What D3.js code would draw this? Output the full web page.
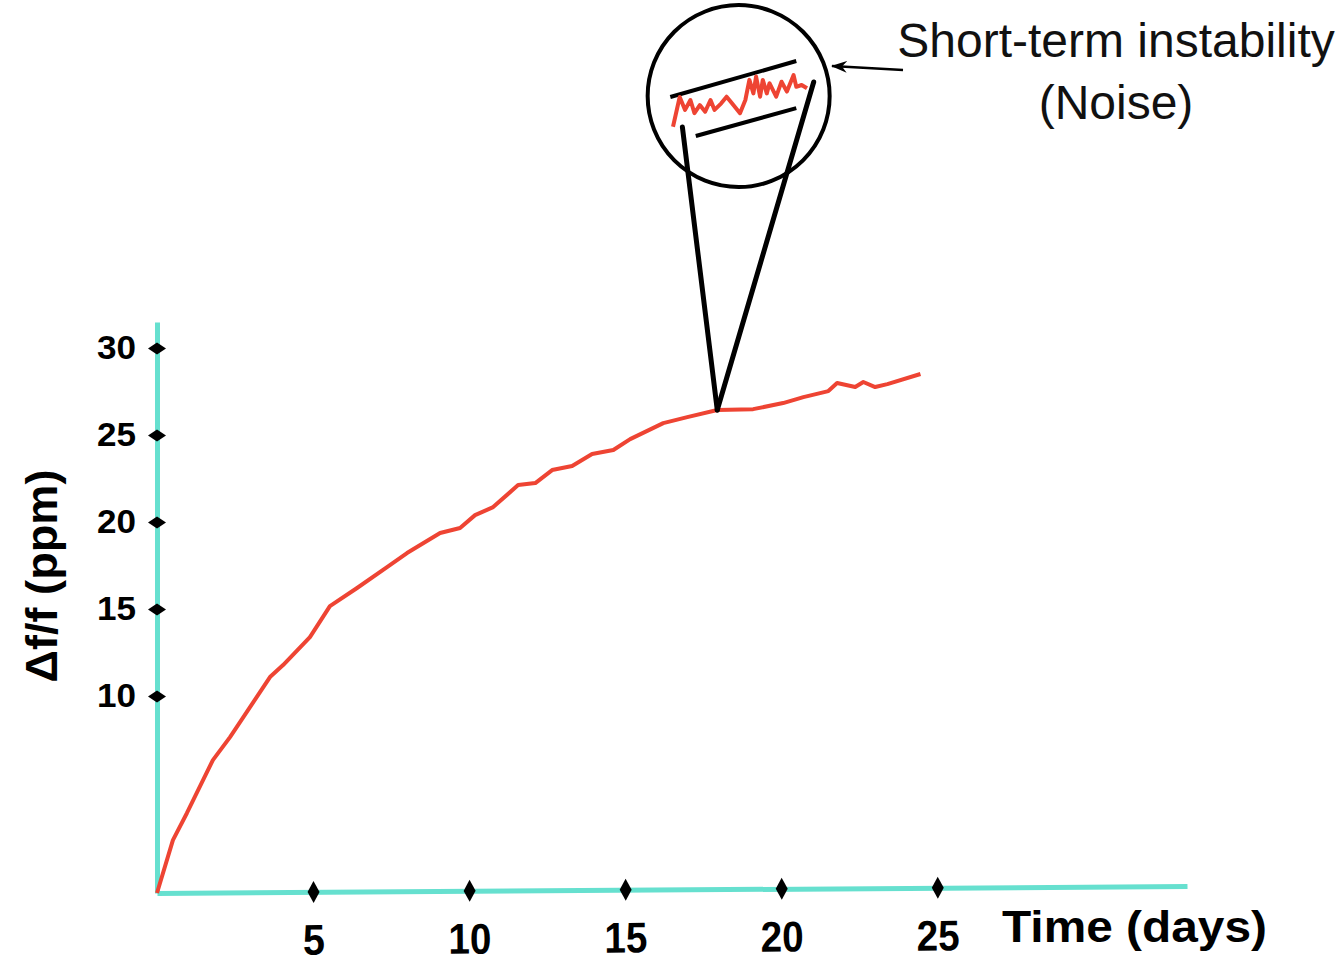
<!DOCTYPE html>
<html>
<head>
<meta charset="utf-8">
<script src="https://cdn.jsdelivr.net/npm/d3@7"></script>
<style>
  html, body { margin: 0; padding: 0; background: #fff; }
  svg { display: block; font-family: 'Liberation Sans', Arial, sans-serif; }
</style>
</head>
<body>
<div class="container"></div>
<script>
// drift curve: time (days) vs frequency offset (ppm)
const days = [0, 0.51, 0.96, 1.79, 2.34, 3.62, 4.04, 4.90, 5.54, 6.41, 7.37, 8.01, 9.07, 9.71, 10.19, 10.77,
  11.57, 12.12, 12.66, 13.30, 13.94, 14.62, 15.16, 16.22, 16.99, 17.95, 19.10, 20.06, 20.71, 21.51,
  21.79, 22.37, 22.63, 23.01, 23.40, 24.46]
const ppm = [-1.32, 1.72, 3.28, 6.32, 7.64, 11.09, 11.78, 13.39, 15.17, 16.21, 17.41, 18.22, 19.37, 19.66, 20.40, 20.86,
  22.13, 22.24, 22.99, 23.22, 23.91, 24.14, 24.77, 25.69, 26.03, 26.44, 26.49, 26.84, 27.18, 27.53,
  27.99, 27.76, 28.05, 27.76, 27.93, 28.51]

const xTicks = [5, 10, 15, 20, 25]
const yTicks = [10, 15, 20, 25, 30]

// magnified noise trace in the inset (local units)
const noiseU = [0, 0.05, 0.09, 0.13, 0.16, 0.20, 0.24, 0.28, 0.31, 0.36, 0.40, 0.44, 0.50, 0.54, 0.57, 0.60,
  0.62, 0.65, 0.67, 0.70, 0.72, 0.77, 0.81, 0.85, 0.90, 0.92, 0.96, 1.0]
const noiseV = [0.01, 1.0, 0.57, 0.9, 0.46, 0.73, 0.51, 0.9, 0.57, 0.79, 1.01, 0.79, 0.46, 0.9, 1.57, 1.12,
  1.68, 1.01, 1.57, 1.12, 1.46, 1.01, 1.51, 1.18, 1.73, 1.34, 1.4, 1.29]

const zoomDay = 17.95
const xLabel = 'Time (days)'
const yLabel = 'Δf/f (ppm)'
const noteLines = ['Short-term instability', '(Noise)']

const w = 1344
const h = 966
const teal = '#66e0cf'
const red = '#ee4433'

const svg = d3.select('.container')
  .append('svg')
  .attr('width', w)
  .attr('height', h)

const x = d3.scaleLinear().domain([0, 33]).range([157, 1187])
const y = d3.scaleLinear().domain([-1.32, 31.5]).range([893, 322])

const diamondH = 'M-9,0L0,-6L9,0L0,6Z'
const diamondV = 'M0,-11L6,0L0,11L-6,0Z'

// y axis
const yAxis = svg.append('g')
  .attr('transform', `translate(${x(0)},0)`)
  .call(d3.axisLeft(y).tickValues(yTicks).tickSize(0).tickPadding(21))
yAxis.select('.domain').attr('stroke', teal).attr('stroke-width', 5)
yAxis.selectAll('.tick').append('path').attr('d', diamondH).attr('fill', '#000')
yAxis.selectAll('.tick text')
  .attr('fill', '#000')
  .attr('font-size', 34)
  .attr('font-weight', 'bold')
  .attr('font-family', 'Liberation Sans, Arial, sans-serif')
  .attr('textLength', 39)
  .attr('lengthAdjust', 'spacingAndGlyphs')

// x axis (drawn very slightly tilted like the original)
const xAxis = svg.append('g')
  .attr('transform', `translate(0,${y(-1.32)}) rotate(-0.39 ${x(0)} 0)`)
  .call(d3.axisBottom(x).tickValues(xTicks).tickSize(0).tickPadding(37))
xAxis.select('.domain').attr('stroke', teal).attr('stroke-width', 5)
xAxis.selectAll('.tick').append('path').attr('d', diamondV).attr('fill', '#000')
xAxis.selectAll('.tick text')
  .attr('fill', '#000')
  .attr('font-size', 43)
  .attr('font-weight', 'bold')
  .attr('font-family', 'Liberation Sans, Arial, sans-serif')
  .attr('dy', '0.6em')
  .attr('textLength', d => (d < 10 ? 22 : 43))
  .attr('lengthAdjust', 'spacingAndGlyphs')

// curve
const pts = days.map((d, i) => [d, ppm[i]])
svg.append('path')
  .datum(pts)
  .attr('d', d3.line().x(d => x(d[0])).y(d => y(d[1])))
  .attr('fill', 'none')
  .attr('stroke', red)
  .attr('stroke-width', 4)
  .attr('stroke-linejoin', 'round')

// axis titles
svg.append('text')
  .text(xLabel)
  .attr('x', 1002)
  .attr('y', 942)
  .attr('font-size', 44)
  .attr('font-weight', 'bold')
  .attr('textLength', 265)
  .attr('lengthAdjust', 'spacingAndGlyphs')

svg.append('text')
  .text(yLabel)
  .attr('transform', 'translate(57,576) rotate(-90)')
  .attr('text-anchor', 'middle')
  .attr('font-size', 44)
  .attr('font-weight', 'bold')
  .attr('textLength', 213)
  .attr('lengthAdjust', 'spacingAndGlyphs')

// inset: magnified view of the noise
const ix = d3.scaleLinear().domain([0, 1]).range([673, 807])
const iy = d3.scaleLinear().domain([0, 1]).range([127, 97])
const apex = [x(zoomDay), y(ppm[days.indexOf(zoomDay)])]

svg.append('circle')
  .attr('cx', ix(0.49))
  .attr('cy', iy(1.03))
  .attr('r', 91)
  .attr('fill', 'none')
  .attr('stroke', '#000')
  .attr('stroke-width', 4)

const bars = [[[-0.02, 1.0], [0.92, 2.2]], [[0.17, -0.3], [0.92, 0.63]]]
svg.selectAll('.bar')
  .data(bars)
  .enter()
  .append('line')
  .attr('x1', d => ix(d[0][0]))
  .attr('y1', d => iy(d[0][1]))
  .attr('x2', d => ix(d[1][0]))
  .attr('y2', d => iy(d[1][1]))
  .attr('stroke', '#000')
  .attr('stroke-width', 4)

svg.append('path')
  .datum(noiseU.map((u, i) => [u, noiseV[i]]))
  .attr('d', d3.line().x(d => ix(d[0])).y(d => iy(d[1])))
  .attr('fill', 'none')
  .attr('stroke', red)
  .attr('stroke-width', 4)
  .attr('stroke-linejoin', 'round')

const feet = [[0.07, 0], [1.05, 1.5]]
svg.selectAll('.zoomline')
  .data(feet)
  .enter()
  .append('line')
  .attr('x1', d => ix(d[0]))
  .attr('y1', d => iy(d[1]))
  .attr('x2', apex[0])
  .attr('y2', apex[1])
  .attr('stroke', '#000')
  .attr('stroke-width', 5)
  .attr('stroke-linecap', 'round')

// arrow to the inset
svg.append('defs').append('marker')
  .attr('id', 'head')
  .attr('viewBox', '0 0 16 12')
  .attr('refX', 15)
  .attr('refY', 6)
  .attr('markerUnits', 'userSpaceOnUse')
  .attr('markerWidth', 16)
  .attr('markerHeight', 12)
  .attr('orient', 'auto')
  .append('path')
  .attr('d', 'M0,0L16,6L0,12L5,6Z')
  .attr('fill', '#000')

svg.append('line')
  .attr('x1', 903)
  .attr('y1', 70)
  .attr('x2', 832)
  .attr('y2', 66)
  .attr('stroke', '#000')
  .attr('stroke-width', 2.5)
  .attr('marker-end', 'url(#head)')

svg.selectAll('.note')
  .data(noteLines)
  .enter()
  .append('text')
  .text(d => d)
  .attr('x', 1116)
  .attr('y', (d, i) => 57 + i * 62)
  .attr('text-anchor', 'middle')
  .attr('font-size', 48)
  .attr('fill', '#111')
</script>
</body>
</html>
